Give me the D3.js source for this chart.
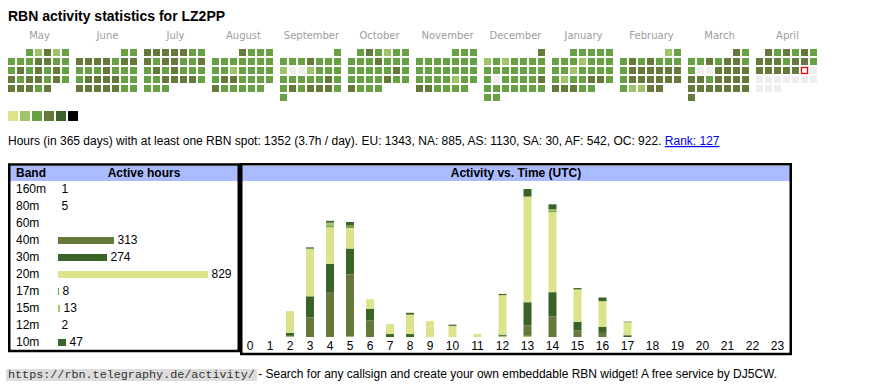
<!DOCTYPE html>
<html><head><meta charset="utf-8">
<script src="https://cdn.jsdelivr.net/npm/d3@7"></script>
<style>body{margin:0;background:#fff}svg{display:block}</style>
</head><body>
<svg id="c" width="870" height="390"></svg>
<script>
// ---------- data ----------
const title = "RBN activity statistics for LZ2PP";
const monthNames = ["May","June","July","August","September","October","November","December","January","February","March","April"];
const startYear = 2024, startMonth = 4; // May 2024
const todayDate = new Date(2025, 3, 19);
// daily activity level per month (0 = no data, 1..3 = legend level)
const lvMay = [2,1,3,1,2, 2,2,2,3,3,2,2, 2,3,2,3,2,3,2, 3,2,3,3,2,3,2, 3,3,3,2,3];
const lvJun = [2,2, 3,3,3,3,2,3,3, 2,2,2,3,2,2,2, 2,3,3,3,3,2,2, 3,3,3,3,3,2,2];
const lvJul = [3,3,3,3,3,2,2, 3,2,3,3,2,2,3, 2,3,2,3,2,2,2, 2,2,3,3,3,3,2, 2,2,2];
const lvAug = [3,2,2,2, 2,2,2,2,2,2,2, 2,2,1,2,2,2,2, 2,3,3,2,2,2,2, 3,2,2,2,2,2];
const lvSep = [2, 2,2,2,3,2,2,2, 1,0,0,1,2,2,2, 2,2,2,2,2,3,2, 2,3,2,3,3,3,2, 2];
const lvOct = [2,3,2,1,2,2, 2,2,2,3,2,2,2, 2,2,2,2,2,3,2, 2,2,2,2,3,2,2, 3,2,2,2];
const lvNov = [2,2,2, 2,2,2,2,2,2,2, 2,2,2,2,2,2,2, 2,2,2,2,1,2,2, 3,3,2,2,2,2];
const lvDec = [3, 1,2,1,2,2,2,2, 2,2,2,2,2,2,2, 2,0,2,2,2,2,3, 2,2,2,2,2,2,2, 2,2];
const lvJan = [2,2,2,2,2, 2,2,2,1,2,2,2, 2,2,1,2,2,2,2, 2,1,2,2,3,3,2, 3,3,3,2,2];
const lvFeb = [1,2, 2,3,2,3,2,2,2, 2,3,3,3,3,3,3, 2,3,3,3,3,3,3, 2,1,1,3,3];
const lvMar = [3,2, 2,2,3,2,3,3,2, 2,0,0,3,3,3,3, 3,3,2,3,3,3,3, 3,3,3,3,3,3,3, 3];
const lvApr = [3,2,3,2,3,2, 3,3,3,2,3,3,2, 3,3,3,3,3,0,0, 0,0,0,0,0,0,0, 0,0,0];
const monthLevels = [lvMay,lvJun,lvJul,lvAug,lvSep,lvOct,lvNov,lvDec,lvJan,lvFeb,lvMar,lvApr];

const legendColors = ["#dce38b","#9fc46a","#68a044","#657a3a","#3a6328","#000000"];

const totalDays = 365, activeHours = 1352, perDay = "3.7";
const continents = ["EU","NA","AS","SA","AF","OC"];
const continentHours = [1343,885,1130,30,542,922];
const rank = 127;

const bands = ["160m","80m","60m","40m","30m","20m","17m","15m","12m","10m"];
const bandHours = [1,5,0,313,274,829,8,13,2,47];
const bandColorIdx = [1,1,0,3,4,0,2,1,3,4];

const hours = ["0","1","2","3","4","5","6","7","8","9","10","11","12","13","14","15","16","17","18","19","20","21","22","23"];
//                     0 1 2 3  4  5   6  7 8  9 10 11 12  13  14  15 16 17 18..23
const h160m = [0,0,0,0,0,1,0,0,0,0,0,0,0,0,0,0,0,0,0,0,0,0,0,0];
const h80m  = [0,0,1,0,0,0,0,0,0,0,0,0,2,2,0,0,0,0,0,0,0,0,0,0];
const h60m  = [0,0,0,0,0,0,0,0,0,0,0,0,0,0,0,0,0,0,0,0,0,0,0,0];
const h40m  = [0,0,1,33,75,105,28,0,0,0,0,0,0,18,35,11,7,0,0,0,0,0,0,0];
const h30m  = [0,0,5,36,49,44,20,5,5,0,0,0,2,39,41,15,10,3,0,0,0,0,0,0];
const h20m  = [0,0,37,80,62,35,16,15,33,27,19,5,67,178,136,54,43,22,0,0,0,0,0,0];
const h17m  = [0,0,0,0,2,4,0,0,0,0,0,0,0,0,2,0,0,0,0,0,0,0,0,0];
const h15m  = [0,0,0,1,6,0,0,1,0,0,0,0,0,1,2,1,1,0,0,0,0,0,0,0];
const h12m  = [0,0,0,0,0,0,0,0,0,0,0,0,0,1,1,0,0,0,0,0,0,0,0,0];
const h10m  = [0,0,0,2,3,6,0,0,3,0,2,0,2,12,8,2,6,1,0,0,0,0,0,0];
const hourSeries = [h160m,h80m,h60m,h40m,h30m,h20m,h17m,h15m,h12m,h10m];

const footerUrl = "https://rbn.telegraphy.de/activity/";
const footerText = " - Search for any callsign and create your own embeddable RBN widget! A free service by DJ5CW.";

// ---------- drawing ----------
const SANS = "'Liberation Sans', Arial, sans-serif";
const svg = d3.select("#c").attr("font-family", SANS);

svg.append("text").attr("x", 8).attr("y", 21)
  .attr("font-size", 14).attr("font-weight", "bold").text(title);

// calendar
const monthX = d3.scaleBand().domain(monthNames).range([8, 819]).paddingInner(5/68);
const colX = d3.scaleBand().domain(d3.range(7)).range([0, 61]).paddingInner(2/9);
const rowY = d3.scaleBand().domain(d3.range(6)).range([49, 49 + 6*9 - 2]).paddingInner(2/9);

const cal = svg.append("g");
monthNames.forEach((m, i) => {
  const first = new Date(startYear, startMonth + i, 1);
  const off = (first.getDay() + 6) % 7;
  const gx = monthX(m);
  cal.append("text").attr("x", gx + monthX.bandwidth()/2).attr("y", 38.5)
    .attr("text-anchor", "middle").attr("font-family", "'DejaVu Sans', Verdana, sans-serif")
    .attr("font-size", 10).attr("fill", "#9d9d9d").text(m);
  const days = monthLevels[i].map((lv, d) => {
    const date = d3.timeDay.offset(first, d);
    return {lv, date, col: (date.getDay() + 6) % 7, row: Math.floor((d + off) / 7)};
  });
  cal.selectAll(null).data(days).enter().append("rect")
    .attr("x", d => gx + colX(d.col)).attr("y", d => rowY(d.row))
    .attr("width", colX.bandwidth()).attr("height", rowY.bandwidth())
    .attr("fill", d => d.lv === 0 ? "#eeeeee" : legendColors[d.lv]);
  days.filter(d => +d.date === +todayDate).forEach(d => {
    cal.append("rect").attr("x", gx + colX(d.col) + 0.5).attr("y", rowY(d.row) + 0.5)
      .attr("width", colX.bandwidth() - 1).attr("height", rowY.bandwidth() - 1)
      .attr("fill", "#fff").attr("stroke", "#ff0000").attr("stroke-width", 1.3);
  });
});

// legend
const legX = d3.scaleBand().domain(d3.range(legendColors.length)).range([8, 8 + 12*6 - 2]).paddingInner(2/12);
svg.append("g").selectAll("rect").data(legendColors).enter().append("rect")
  .attr("x", (d, i) => legX(i)).attr("y", 111).attr("width", legX.bandwidth()).attr("height", 10)
  .attr("fill", d => d);

// info line
const info = svg.append("text").attr("x", 8).attr("y", 145).attr("font-size", 12);
info.append("tspan").text(`Hours (in ${totalDays} days) with at least one RBN spot: ${activeHours} (${perDay}h / day). ` +
  continents.map((c, i) => `${c}: ${continentHours[i]}`).join(", ") + ". ");
info.append("tspan").attr("fill", "#0000ee").attr("text-decoration", "underline").text(`Rank: ${rank}`);

// band table
const bt = svg.append("g");
bt.append("rect").attr("x", 10).attr("y", 166).attr("width", 228).attr("height", 15).attr("fill", "#aabbff");
bt.append("rect").attr("x", 9.25).attr("y", 164.5).attr("width", 229.5).attr("height", 186.5)
  .attr("fill", "none").attr("stroke", "#000").attr("stroke-width", 2.5);
bt.append("text").attr("x", 16).attr("y", 177).attr("font-size", 12).attr("font-weight", "bold").text("Band");
bt.append("text").attr("x", 144).attr("y", 177).attr("font-size", 12).attr("font-weight", "bold")
  .attr("text-anchor", "middle").text("Active hours");
const rowBase = d3.scalePoint().domain(bands).range([193, 346]);
const barW = d3.scaleLinear().domain([0, d3.max(bandHours)]).range([0, 150]);
const bw = v => Math.floor(barW(v));
const rows = bt.selectAll("g.row").data(bands.map((b, i) => ({b, v: bandHours[i], c: legendColors[bandColorIdx[i]]})))
  .enter().append("g");
rows.append("text").attr("x", 16).attr("y", d => rowBase(d.b)).attr("font-size", 12).text(d => d.b);
rows.filter(d => bw(d.v) > 0).append("rect").attr("x", 58).attr("y", d => rowBase(d.b) - 7)
  .attr("width", d => bw(d.v)).attr("height", 7).attr("fill", d => d.c);
rows.filter(d => d.v > 0).append("text").attr("x", d => 58 + bw(d.v) + 3.5).attr("y", d => rowBase(d.b))
  .attr("font-size", 12).text(d => d.v);

// activity vs time
const at = svg.append("g");
at.append("rect").attr("x", 242).attr("y", 166).attr("width", 549).attr("height", 15).attr("fill", "#aabbff");
at.append("rect").attr("x", 241.25).attr("y", 164.25).attr("width", 549.5).attr("height", 189.75)
  .attr("fill", "none").attr("stroke", "#000").attr("stroke-width", 2.5);
at.append("text").attr("x", 516).attr("y", 177).attr("font-size", 12).attr("font-weight", "bold")
  .attr("text-anchor", "middle").text("Activity vs. Time (UTC)");

let acc = 240;
const centers = hours.map(h => { const w = h.length === 1 ? 20 : 25; const c = acc + w/2; acc += w; return c; });
const xHour = d3.scaleOrdinal().domain(hours).range(centers);
const table = hours.map((h, i) => { const o = {hour: h}; bands.forEach((b, j) => o[b] = hourSeries[j][i]); return o; });
const stacked = d3.stack().keys(bands)(table);
const yAct = d3.scaleLinear().domain([0, d3.max(stacked[stacked.length-1], d => d[1])]).range([337, 189]);
at.selectAll("g.layer").data(stacked).enter().append("g")
  .attr("fill", (s, i) => legendColors[bandColorIdx[i]])
  .selectAll("rect").data(d => d.filter(p => p[1] > p[0])).enter().append("rect")
  .attr("x", d => xHour(d.data.hour) - 4).attr("width", 8)
  .attr("y", d => yAct(d[1])).attr("height", d => yAct(d[0]) - yAct(d[1]));
at.selectAll("text.hl").data(hours).enter().append("text")
  .attr("x", d => xHour(d)).attr("y", 350).attr("text-anchor", "middle").attr("font-size", 12).text(d => d);

// footer
svg.append("rect").attr("x", 6).attr("y", 369).attr("width", 251).attr("height", 12).attr("fill", "#dddddd");
const ft = svg.append("text").attr("x", 8).attr("y", 378).attr("font-size", 12);
ft.append("tspan").attr("font-family", "'Liberation Mono', 'Courier New', monospace").attr("font-size", 11.75)
  .attr("fill", "#333").text(footerUrl);
ft.append("tspan").attr("xml:space", "preserve").style("white-space", "pre").text(footerText);
</script>
</body></html>
